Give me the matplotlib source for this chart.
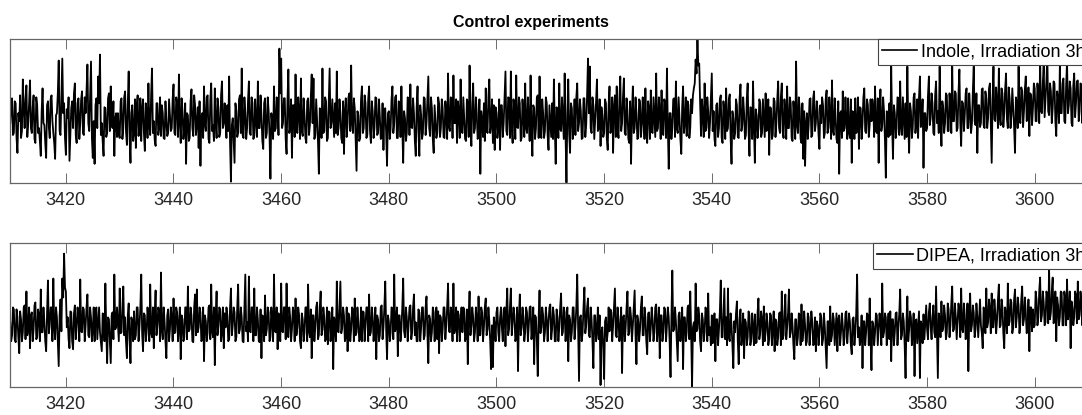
import numpy as np
import matplotlib
matplotlib.use("Agg")
import matplotlib.pyplot as plt

plt.rcParams['font.family'] = ['Liberation Sans', 'DejaVu Sans']

# wavenumber grid (cm-1) and intensities (arb. units)
wn_start = 3409.7
wn_step = 1/6.

indole = [60,78, 85,48, 50,82, 80,45, 30,70, 62,88, 45,52, 104,75, 55,84, 98,46, 60,80, 103,55, 50,76, 88,44, 40,86, 78,50, 55,42, 27,72, 95,60, 58,40, 25,78, 82,56, 45,84, 88,62, 50,40, 24,68, 70,90, 123,52, 48,85, 125,70,
          80,45, 28,74, 65,86, 22,50, 75,82, 55,90, 100,48, 40,80, 85,44, 60,84, 92,50, 48,86, 70,92, 119,60, 52,88, 122,45, 25,62, 19,78, 85,55, 107,80, 129,48, 60,42, 27,76, 75,46, 50,85, 90,52, 97,60, 55,82, 27,64, 70,46,
          70,48, 45,82, 85,44, 55,86, 92,52, 38,80, 112,46, 20,70, 78,42, 50,84, 35,78, 88,47, 60,85, 42,75, 84,50, 32,80, 72,45, 100,58, 48,88, 115,50, 62,43, 37,80, 80,48, 55,86, 47,78, 70,45, 44,82, 62,47, 50,84, 68,52,
          55,84, 99,50, 48,86, 80,46, 109,62, 40,85, 72,44, 55,80, 19,70, 68,42, 45,82, 94,55, 47,88, 78,48, 60,76, 35,82, 17,66, 70,45, 97,58, 52,86, 88,44, 40,84, 100,52, 58,42, 95,60, 45,85, 75,46, 50,88, 102,55, 60,80,
          60,45, 78,52, 107,40, 1,58, 65,42, 20,80, 72,46, 50,84, 88,50, 115,48, 45,86, 70,44, 55,82, 102,50, 48,86, 80,44, 47,84, 62,46, 102,55, 55,88, 68,42, 34,80, 85,45, 50,86, 72,48, 4,70, 60,44, 97,52, 55,86, 80,48,
          135,90, 125,55, 60,85, 85,44, 29,82, 114,50, 55,84, 25,78, 78,46, 109,55, 50,86, 72,44, 105,52, 47,85, 68,45, 40,82, 85,48, 58,86, 109,60, 105,44, 48,84, 62,42, 9,75, 70,45, 115,50, 52,86, 82,42, 45,82, 115,55, 60,84,
          65,46, 80,50, 112,48, 55,84, 70,45, 40,82, 29,72, 85,46, 60,86, 90,52, 118,60, 50,85, 75,44, 12,72, 68,42, 45,84, 97,50, 55,88, 80,45, 48,84, 97,52, 40,82, 72,45, 55,86, 85,48, 50,84, 66,44, 45,80, 33,74, 75,50,
          17,70, 72,44, 55,84, 97,50, 60,86, 88,45, 45,82, 80,46, 97,55, 20,72, 65,42, 50,86, 82,48, 99,56, 55,85, 70,42, 27,76, 97,52, 27,78, 68,44, 50,86, 85,48, 60,84, 107,55, 47,86, 75,44, 30,78, 62,45, 50,86, 80,46,
          55,84, 75,46, 45,82, 68,44, 110,56, 52,86, 85,45, 108,60, 60,84, 40,82, 72,45, 104,54, 50,86, 65,44, 42,84, 80,46, 118,58, 37,80, 100,50, 55,86, 70,44, 48,84, 9,72, 62,46, 80,42, 95,55, 50,86, 104,50, 58,84, 40,78,
          33,76, 70,45, 55,84, 33,78, 78,46, 60,85, 112,52, 48,86, 85,45, 112,55, 40,84, 72,44, 108,56, 55,86, 80,42, 45,84, 68,46, 100,55, 50,86, 62,42, 108,52, 27,78, 75,44, 55,86, 88,45, 107,55, 45,84, 70,45, 52,86, 80,48,
          33,78, 62,46, 80,44, 104,55, 19,76, 70,45, 100,54, 52,86, 65,44, 110,48, 0,70, 104,50, 30,80, 75,44, 55,84, 48,86, 100,52, 60,84, 72,44, 45,85, 85,46, 58,88, 125,70, 117,55, 50,86, 78,44, 62,82, 104,52, 55,84, 37,76,
          68,46, 50,84, 80,44, 33,78, 97,50, 55,86, 30,76, 88,46, 97,55, 45,84, 107,52, 60,86, 105,50, 48,85, 72,44, 40,82, 19,70, 97,50, 55,86, 70,44, 45,84, 82,46, 58,86, 62,44, 95,52, 40,82, 75,44, 93,52, 50,86, 65,46,
          110,52, 55,86, 72,44, 93,50, 48,84, 80,45, 115,55, 14,70, 70,44, 55,84, 85,46, 102,55, 50,86, 65,44, 29,76, 97,50, 60,86, 47,82, 78,45, 55,84, 70,88, 95,100, 124,110, 145,118, 120,80, 47,84, 68,46, 100,52, 55,86, 72,45,
          60,84, 110,52, 72,44, 37,78, 80,46, 55,84, 88,45, 40,82, 70,44, 95,52, 55,84, 89,45, 19,72, 65,44, 50,84, 78,46, 45,85, 99,52, 58,86, 70,44, 48,84, 100,52, 27,76, 75,44, 102,55, 20,74, 68,45, 55,84, 80,46, 50,84,
          65,46, 90,52, 55,84, 28,76, 75,44, 48,85, 82,46, 60,84, 102,55, 50,86, 100,52, 45,84, 70,44, 97,55, 55,86, 80,45, 42,82, 68,44, 122,58, 50,86, 75,44, 40,80, 24,72, 17,60, 70,44, 58,84, 85,46, 48,85, 92,52, 60,82,
          72,48, 34,78, 60,86, 78,45, 50,84, 93,50, 55,86, 70,44, 103,52, 48,85, 66,44, 40,82, 9,70, 72,45, 92,52, 55,86, 62,44, 85,50, 45,84, 20,72, 70,44, 85,50, 52,86, 34,76, 75,44, 60,86, 95,52, 50,84, 78,46, 58,84,
          62,84, 75,46, 97,52, 50,85, 20,74, 94,52, 58,86, 72,44, 5,72, 68,46, 80,48, 117,60, 24,78, 70,45, 55,86, 85,48, 102,56, 48,86, 66,44, 80,46, 117,58, 30,80, 72,45, 55,86, 90,50, 60,84, 45,86, 107,56, 62,84, 15,70,
          70,52, 55,88, 107,58, 65,90, 80,50, 48,88, 102,60, 72,50, 117,64, 37,82, 75,50, 60,90, 88,52, 52,90, 78,50, 117,62, 62,92, 90,52, 55,90, 114,60, 37,82, 80,52, 68,90, 95,55, 55,90, 72,50, 60,92, 117,62, 58,90, 30,78,
          78,56, 60,94, 95,58, 55,92, 85,55, 65,95, 100,62, 20,84, 117,64, 62,96, 80,55, 115,66, 58,95, 90,56, 70,94, 110,64, 55,96, 85,55, 68,95, 75,56, 30,86, 80,55, 117,66, 60,96, 92,56, 72,94, 107,62, 65,96, 47,90, 88,58,
          75,100, 95,62, 62,100, 88,60, 125,72, 70,100, 120,66, 85,102, 128,72, 68,100, 92,60, 75,102, 100,62, 47,92, 85,60, 118,70, 70,100, 105,62, 60,98, 122,70, 78,102, 95,60, 57,98, 110,66, 80,102, 103,62, 72,100, 98,60, 85,100, 76,62]

dipea = [65,46, 52,80, 78,48, 45,78, 70,50, 34,76, 68,46, 55,80, 82,48, 96,52, 60,80, 39,72, 75,46, 58,82, 85,48, 50,78, 72,46, 98,55, 55,80, 66,46, 36,74, 107,54, 62,80, 80,46, 109,60, 48,80, 70,45, 21,72, 88,56, 109,90,
         134,100, 96,60, 70,48, 39,76, 75,46, 38,74, 82,48, 60,80, 72,46, 108,56, 55,80, 78,46, 62,80, 93,52, 50,80, 70,46, 58,80, 46,76, 80,48, 65,80, 55,46, 36,74, 72,46, 104,56, 24,70, 68,46, 24,72, 75,48, 113,58, 60,80,
         62,46, 99,54, 55,80, 101,52, 70,46, 29,72, 84,48, 24,70, 65,46, 76,48, 52,80, 80,46, 60,80, 113,54, 36,74, 72,46, 55,80, 68,46, 103,54, 50,80, 39,74, 97,52, 62,80, 75,46, 115,56, 48,80, 66,46, 29,72, 78,46, 58,80,
         70,46, 89,54, 55,80, 75,46, 62,80, 28,72, 68,46, 50,80, 80,48, 101,56, 58,80, 72,46, 45,80, 93,52, 98,55, 60,80, 75,46, 48,80, 26,72, 66,46, 55,80, 82,48, 103,56, 50,80, 22,72, 96,52, 62,80, 78,46, 55,80, 39,74,
         60,80, 72,46, 48,80, 99,52, 62,80, 75,46, 50,80, 103,54, 58,80, 70,46, 45,80, 113,56, 65,46, 111,56, 55,80, 80,46, 99,52, 52,80, 68,46, 45,78, 29,72, 70,46, 92,52, 58,80, 75,46, 50,80, 66,46, 113,56, 55,80, 38,74,
         62,46, 104,56, 55,80, 80,48, 104,54, 50,80, 70,46, 58,80, 75,46, 89,52, 60,80, 72,46, 39,74, 68,46, 55,80, 80,46, 103,56, 50,78, 29,72, 72,46, 60,80, 85,48, 52,80, 96,52, 58,80, 70,46, 48,80, 43,76, 75,46, 60,80,
         18,70, 65,46, 106,56, 55,80, 106,54, 60,80, 72,46, 50,80, 36,74, 70,46, 58,80, 78,46, 89,52, 55,80, 65,46, 48,80, 46,76, 75,46, 62,80, 80,46, 93,52, 55,80, 70,46, 60,80, 28,72, 68,46, 52,80, 82,48, 60,80, 106,58,
         28,72, 66,46, 55,80, 78,48, 113,56, 60,80, 31,72, 72,46, 58,80, 109,56, 50,80, 70,46, 62,80, 82,48, 55,80, 93,52, 65,46, 46,78, 75,46, 60,80, 80,48, 52,80, 91,54, 24,72, 68,46, 55,80, 75,46, 60,80, 48,76, 34,72,
         70,46, 58,80, 80,48, 62,80, 104,56, 55,80, 75,46, 104,54, 60,80, 46,76, 72,46, 65,80, 55,80, 78,46, 50,78, 23,72, 96,52, 62,80, 70,46, 55,80, 68,46, 91,52, 52,80, 75,46, 60,80, 89,52, 58,80, 66,46, 18,62, 20,70,
         62,46, 75,80, 55,46, 70,80, 60,46, 78,80, 41,76, 99,52, 58,80, 99,52, 65,80, 72,46, 50,80, 16,70, 93,52, 60,80, 70,46, 55,80, 75,46, 62,80, 81,48, 58,80, 23,72, 70,46, 11,70, 97,54, 60,80, 72,46, 55,80, 68,46,
         65,80, 83,48, 58,80, 72,46, 46,78, 70,46, 60,80, 94,52, 55,80, 75,46, 62,80, 26,72, 68,46, 55,80, 80,48, 60,80, 113,56, 6,70, 72,46, 55,80, 100,54, 62,80, 89,52, 50,80, 68,46, 19,72, 72,46, 55,80, 48,72, 2,56,
         60,40, 8,66, 70,46, 55,80, 56,78, 75,46, 62,80, 99,52, 50,80, 68,46, 58,80, 14,70, 72,46, 60,80, 96,52, 55,80, 70,46, 62,80, 97,52, 23,72, 66,46, 58,80, 91,52, 52,80, 70,46, 33,74, 75,46, 60,80, 68,46, 55,80,
         83,46, 60,80, 29,72, 72,46, 55,80, 78,46, 62,80, 70,46, 10,70, 117,56, 58,80, 66,46, 26,72, 75,46, 60,80, 18,70, 70,46, 55,80, 82,48, 96,54, 0,60, 65,46, 104,56, 58,80, 72,46, 36,74, 68,46, 55,80, 75,46, 94,52,
         60,42, 72,44, 55,74, 26,68, 68,42, 58,76, 107,50, 50,74, 99,48, 70,42, 99,50, 46,74, 62,42, 19,66, 55,74, 86,46, 23,68, 78,42, 52,74, 29,68, 65,42, 50,76, 72,42, 48,74, 60,42, 73,44, 45,74, 89,48, 55,76, 68,42,
         81,46, 55,74, 65,42, 48,74, 72,42, 58,76, 36,68, 66,42, 50,74, 75,42, 96,48, 52,76, 93,48, 60,74, 98,50, 55,74, 62,42, 28,68, 68,42, 50,74, 72,42, 83,46, 55,76, 62,42, 46,74, 70,42, 58,76, 66,42, 43,70, 36,66,
         62,42, 55,74, 70,42, 48,74, 60,40, 19,66, 66,42, 81,46, 52,74, 68,42, 58,74, 36,68, 72,42, 55,74, 62,42, 50,74, 76,44, 58,74, 65,42, 33,68, 70,42, 55,74, 113,50, 60,42, 48,72, 19,66, 66,42, 55,74, 72,42, 89,48,
         17,66, 62,42, 55,74, 72,42, 58,74, 66,42, 104,50, 55,74, 70,42, 60,74, 48,76, 26,68, 68,42, 55,74, 75,42, 60,74, 98,48, 52,74, 66,42, 9,66, 91,46, 58,76, 70,42, 55,74, 11,66, 68,44, 60,76, 9,66, 62,44, 73,48,
         66,82, 58,48, 75,84, 60,48, 70,82, 55,50, 101,56, 9,74, 68,50, 86,56, 60,82, 72,48, 55,84, 78,50, 62,84, 101,56, 58,84, 70,48, 65,84, 75,50, 99,58, 55,84, 72,48, 60,84, 16,74, 94,56, 62,82, 75,50, 58,84, 70,50,
         70,88, 62,54, 39,80, 72,54, 99,60, 65,88, 78,54, 94,60, 60,88, 75,54, 68,88, 103,60, 62,88, 80,54, 39,80, 72,54, 104,62, 66,88, 85,54, 60,88, 98,60, 70,90, 82,54, 65,88, 101,62, 68,90, 75,54, 58,88, 36,80, 80,56,
         78,60, 62,96, 88,62, 70,96, 110,66, 72,96, 85,62, 65,96, 92,64, 119,68, 75,96, 110,64, 68,96, 46,90, 82,62, 70,96, 95,62, 62,96, 88,62, 108,68, 75,96, 39,86, 80,62, 70,96, 92,64, 106,68, 72,96, 85,62, 78,96, 90,64]

labels = ["Indole, Irradiation 3h", "DIPEA, Irradiation 3h"]
xticks = np.arange(3420, 3601, 20)

W, H = 1082., 415.
fig = plt.figure(figsize=(W/100, H/100), dpi=100)

# axes boxes in pixels: (left, top, right, bottom) - right side runs past the picture edge
boxes = [(10, 38.7, 1090, 182.7), (10, 242.7, 1090, 387)]

for (l, t, r, b), y, lab in zip(boxes, [indole, dipea], labels):
    ax = fig.add_axes([l/W, 1-b/H, (r-l)/W, (b-t)/H])
    x = wn_start + np.arange(len(y))*wn_step
    ax.plot(x, y, 'k-', lw=1.3, label=lab)
    ax.set_xlim(3409.65, 3610.3)
    ax.set_ylim(0, 145)
    ax.set_xticks(xticks)
    ax.set_yticks([])
    ax.tick_params(axis='x', direction='in', length=7, width=0.6, top=True,
                   labelsize=13, labelcolor='#262626', color='#555555', pad=6.5)
    for s in ax.spines.values():
        s.set_color('#666666')
        s.set_linewidth(0.9)
    leg = ax.legend(loc='upper right', borderaxespad=0, fontsize=13, fancybox=False,
                    framealpha=1, edgecolor='#444444', handlelength=1.95,
                    handletextpad=0.2, borderpad=0.25)
    leg.get_frame().set_linewidth(0.8)
    leg.get_lines()[0].set_linewidth(1.2)

fig.text(531/W, 1-22/H, "Control experiments", ha='center', va='center',
         fontsize=11.5, fontweight='bold')

fig.savefig("out.png", dpi=100)
